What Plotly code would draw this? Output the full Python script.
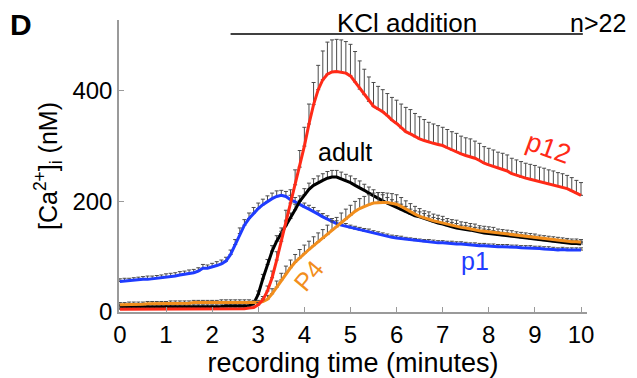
import plotly.graph_objects as go

# time grid (minutes)
time_min = [round(0.1 * i, 1) for i in range(101)]

p1 = [55, 56, 56, 57, 58, 59, 59, 60, 61, 61, 63,
      64, 65, 67, 68, 70, 71, 74, 79, 79, 81,
      84, 87, 92, 104, 122, 142, 157, 169, 179, 187,
      194, 200, 205, 209, 211, 209, 203, 199, 194, 190,
      186, 182, 177, 172, 168, 163, 160, 157, 155, 152,
      150, 148, 146, 145, 143, 141, 139, 137, 135, 134,
      133, 131, 130, 129, 128, 127, 127, 126, 125, 125,
      124, 124, 123, 123, 122, 121, 121, 120, 120, 119,
      119, 118, 118, 118, 117, 117, 116, 116, 116, 115,
      115, 114, 114, 113, 112, 113, 112, 112, 112, 112]
p1_err = [5, 5, 5, 5, 5, 5, 6, 5, 5, 6, 6,
          6, 6, 6, 6, 6, 6, 6, 7, 6, 7,
          7, 7, 7, 8, 9, 10, 10, 10, 10, 10,
          10, 10, 10, 10, 9, 9, 8, 8, 8, 7,
          7, 7, 6, 6, 6, 6, 5, 5, 5, 5,
          5, 5, 5, 5, 4, 4, 4, 4, 4, 4,
          4, 4, 4, 4, 4, 4, 4, 4, 4, 4,
          4, 4, 4, 4, 4, 4, 4, 4, 4, 4,
          4, 4, 4, 4, 4, 4, 4, 4, 4, 4,
          4, 4, 4, 4, 4, 4, 4, 4, 4, 4]

adult = [9, 9, 9, 9, 9, 9, 9, 10, 10, 10, 10,
         10, 10, 10, 10, 10, 10, 10, 10, 10, 10,
         10, 10, 11, 11, 11, 11, 11, 11, 15, 32,
         60, 86, 110, 128, 142, 156, 169, 185, 200, 212,
         222, 229, 234, 238, 242, 244, 244, 241, 237, 234,
         229, 225, 220, 215, 210, 205, 201, 197, 193, 189,
         185, 181, 177, 174, 172, 169, 166, 163, 161, 159,
         156, 154, 152, 150, 149, 148, 146, 145, 143, 142,
         141, 139, 138, 137, 136, 135, 134, 133, 132, 131,
         130, 129, 128, 127, 126, 125, 125, 124, 124, 123]
adult_err = [3, 3, 3, 3, 3, 3, 3, 3, 3, 3, 3,
             3, 3, 3, 3, 3, 3, 3, 3, 3, 3,
             3, 3, 3, 3, 3, 3, 3, 3, 4, 6,
             8, 9, 10, 10, 10, 10, 10, 10, 10, 11,
             11, 12, 12, 12, 12, 12, 12, 12, 12, 12,
             12, 12, 11, 11, 11, 11, 11, 10, 10, 10,
             10, 10, 9, 9, 9, 9, 8, 8, 8, 8,
             8, 8, 8, 7, 7, 7, 7, 7, 7, 7,
             6, 6, 6, 6, 6, 6, 6, 6, 6, 6,
             5, 5, 5, 5, 5, 5, 5, 5, 5, 5]

p4 = [13, 13, 14, 14, 14, 14, 15, 15, 15, 15, 15,
      16, 16, 16, 16, 16, 17, 17, 17, 17, 17,
      17, 18, 18, 18, 18, 18, 18, 18, 17, 17,
      19, 23, 33, 45, 58, 70, 80, 90, 98, 106,
      113, 120, 127, 133, 140, 148, 154, 161, 168, 175,
      182, 187, 191, 194, 197, 198, 198, 198, 197, 195,
      191, 186, 181, 177, 173, 170, 168, 165, 163, 161,
      158, 156, 155, 153, 152, 150, 149, 147, 146, 145,
      144, 142, 141, 140, 139, 138, 137, 136, 135, 134,
      133, 132, 131, 130, 129, 128, 128, 127, 127, 126]
p4_err = [4, 4, 4, 4, 4, 4, 4, 4, 4, 4, 4,
          4, 4, 4, 4, 4, 4, 4, 4, 4, 4,
          4, 4, 4, 4, 4, 4, 4, 4, 4, 4,
          5, 7, 9, 11, 12, 13, 14, 14, 15, 15,
          15, 16, 16, 16, 17, 17, 17, 18, 18, 18,
          18, 18, 18, 18, 18, 18, 18, 17, 17, 17,
          16, 15, 15, 14, 14, 13, 13, 12, 12, 12,
          11, 11, 11, 10, 10, 10, 10, 9, 9, 9,
          9, 8, 8, 8, 8, 7, 7, 7, 7, 7,
          6, 6, 6, 6, 6, 6, 5, 5, 5, 5]

p12 = [5, 5, 5, 5, 5, 5, 5, 5, 5, 5, 5,
       5, 5, 5, 5, 5, 5, 5, 5, 5, 5,
       5, 6, 6, 6, 6, 6, 6, 7, 8, 13,
       22, 38, 62, 94, 128, 163, 197, 230, 262, 300,
       340, 375, 402, 420, 430, 434, 435, 434, 432, 427,
       416, 403, 393, 381, 372, 367, 362, 355, 347, 341,
       333, 326, 322, 317, 313, 310, 307, 305, 303, 301,
       297, 293, 290, 286, 283, 281, 278, 274, 269, 266,
       263, 260, 258, 255, 250, 247, 244, 242, 240, 238,
       236, 234, 231, 229, 227, 225, 223, 219, 215, 211]
p12_err = [2, 2, 2, 2, 2, 2, 2, 2, 2, 2, 2,
           2, 2, 2, 2, 2, 2, 2, 2, 2, 2,
           2, 2, 2, 2, 2, 2, 2, 2, 3, 4,
           6, 9, 12, 15, 18, 21, 24, 27, 30, 34,
           36, 40, 44, 52, 58, 58, 58, 58, 57, 57,
           55, 51, 46, 44, 43, 41, 40, 40, 41, 42,
           43, 44, 44, 42, 40, 38, 36, 35, 34, 33,
           33, 33, 33, 32, 32, 32, 31, 31, 30, 30,
           30, 29, 29, 29, 28, 28, 28, 27, 27, 27,
           26, 26, 26, 26, 25, 25, 24, 24, 23, 23]

series_names = ["p1", "adult", "p4", "p12"]
series_values = [p1, adult, p4, p12]
series_errors = [p1_err, adult_err, p4_err, p12_err]
series_colors = ["#1f3cff", "#000000", "#f28e1c", "#ff2a17"]

FONT = "Liberation Sans, Arial, Helvetica, sans-serif"

fig = go.Figure()
for name, vals, errs, col in zip(series_names, series_values, series_errors, series_colors):
    fig.add_trace(go.Scatter(
        x=time_min, y=vals, mode="lines", name=name,
        line=dict(color=col, width=3),
        error_y=dict(type="data", symmetric=False, array=errs,
                     arrayminus=[0] * len(errs), color="#4a4a4a",
                     thickness=1, width=2),
        showlegend=False,
    ))

axis_common = dict(showline=True, linecolor="#9a9a9a", linewidth=1.5,
                   ticks="inside", ticklen=5, tickcolor="#9a9a9a",
                   showgrid=False, zeroline=False,
                   tickfont=dict(family=FONT, size=24, color="black"))

# the page body adds an 8px margin, so the figure is sized to fit the window
fig.update_layout(
    width=629, height=370,
    margin=dict(l=111, r=50, t=12, b=57),
    paper_bgcolor="white", plot_bgcolor="white",
    font=dict(family=FONT, color="black"),
    xaxis=dict(range=[-0.02, 10.13], tickvals=list(range(11)),
               title=dict(text="recording time (minutes)",
                          font=dict(family=FONT, size=27), standoff=0),
               **axis_common),
    yaxis=dict(range=[0, 528], tickvals=[0, 200, 400],
               title=dict(text="[Ca<sup>2+</sup>]<sub>i</sub> (nM)",
                          font=dict(family=FONT, size=25), standoff=8),
               **axis_common),
)

fig.add_shape(type="line", xref="x", yref="paper", x0=2.4, x1=10.04,
              y0=0.952, y1=0.952, line=dict(color="black", width=1.5))

ann = [
    dict(text="<b>D</b>", xref="paper", yref="paper", x=-0.209, y=0.983,
         xanchor="center", yanchor="middle", font=dict(size=30), showarrow=False),
    dict(text="KCl addition", xref="paper", yref="paper", x=0.615, y=0.99,
         xanchor="center", yanchor="middle", font=dict(size=26), showarrow=False),
    dict(text="n>22", xref="paper", yref="paper", x=1.088, y=0.99,
         xanchor="right", yanchor="middle", font=dict(size=25), showarrow=False),
    dict(text="adult", xref="x", yref="y", x=4.88, y=290,
         font=dict(size=25, color="black"), showarrow=False),
    dict(text="p12", xref="x", yref="y", x=9.29, y=297, textangle=20,
         font=dict(size=27, color="#ff2a17"), showarrow=False),
    dict(text="p1", xref="x", yref="y", x=7.7, y=92,
         font=dict(size=25, color="#1f3cff"), showarrow=False),
    dict(text="P4", xref="x", yref="y", x=4.1, y=67, textangle=-50,
         font=dict(size=25, color="#f28e1c"), showarrow=False),
]
fig.update_layout(annotations=ann)

fig.write_html("out.html")
